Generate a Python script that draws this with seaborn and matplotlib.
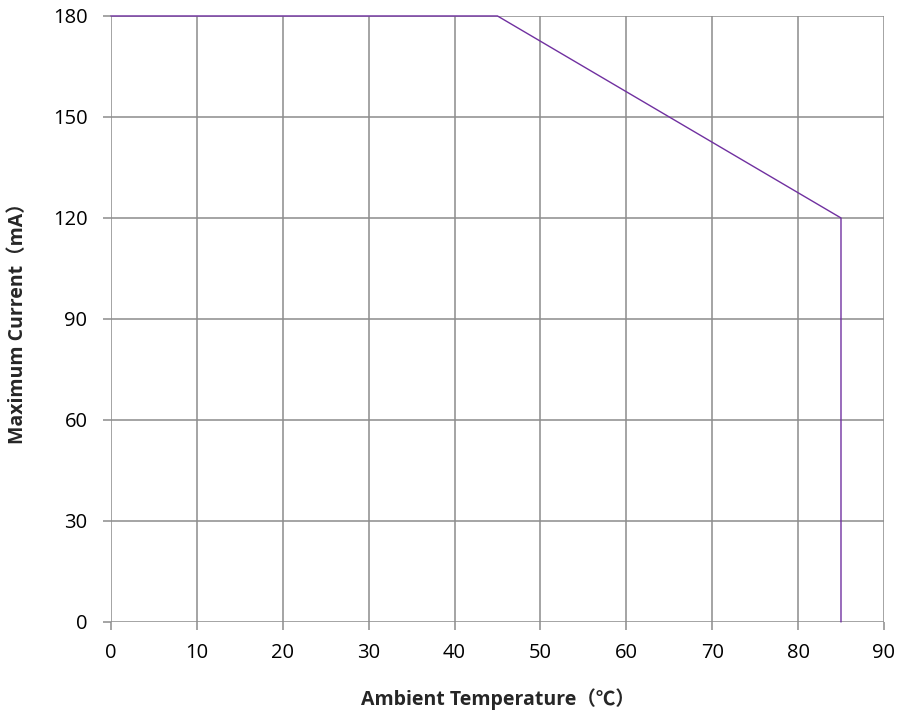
import seaborn as sns
import matplotlib.pyplot as plt
import pandas as pd

temp = [0, 45, 85, 85]
current = [180, 180, 120, 0]
xticks = [0, 10, 20, 30, 40, 50, 60, 70, 80, 90]
yticks = [0, 30, 60, 90, 120, 150, 180]

sns.set_style('white')
plt.rcParams['font.family'] = ['Open Sans', 'Noto Sans CJK SC', 'DejaVu Sans']

d = pd.DataFrame({'temp': temp, 'current': current})

fig = plt.figure(figsize=(9.04, 7.16), dpi=100)
ax = fig.add_axes([0.1228, 0.1313, 0.855, 0.8464])
ax.set_xlim(0, 90)
ax.set_ylim(0, 180)
ax.set_xticks(xticks)
ax.set_yticks(yticks)
ax.grid(True, color='#8c8c8c', linewidth=1.1)
for s in ax.spines.values():
    s.set_visible(False)
ax.tick_params(axis='both', length=6, width=1.1, color='#8c8c8c', labelsize=14.5,
               bottom=True, left=True, labelcolor='black')
ax.tick_params(axis='x', pad=9)
ax.tick_params(axis='y', pad=11)
sns.lineplot(data=d, x='temp', y='current', sort=False, estimator=None, color='#7030a0',
             linewidth=1.0, ax=ax, clip_on=False)
ax.set_xlabel('Ambient Temperature（℃）', fontsize=14, fontweight='bold', labelpad=18)
ax.set_ylabel('Maximum Current（mA）', fontsize=14, fontweight='bold', labelpad=18)
fig.savefig('out.png', dpi=100)
